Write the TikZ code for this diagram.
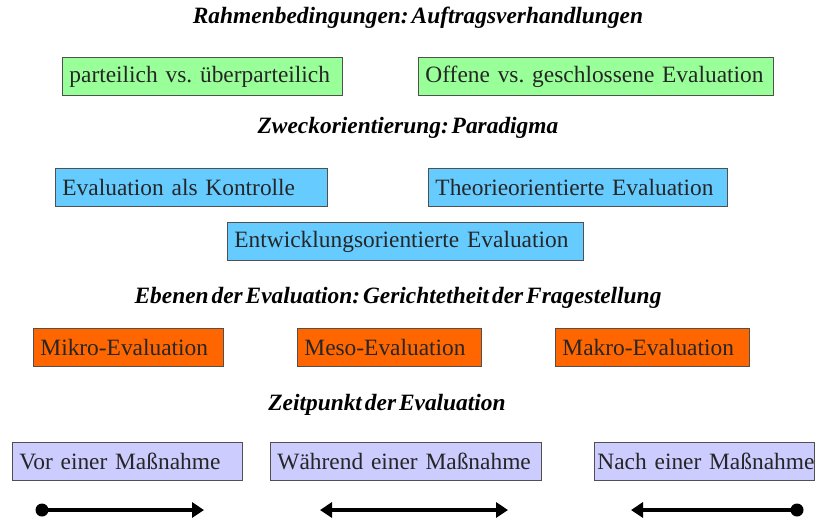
\documentclass[tikz,border=0pt]{standalone}
\usepackage{fontspec}
\setmainfont{Liberation Serif}
\newfontfamily\boxfont[WordSpace=0.6]{Liberation Serif}
\newfontfamily\headfont[WordSpace=0.5]{Liberation Serif}
\usetikzlibrary{arrows.meta}
\definecolor{boxgreen}{HTML}{99FF99}
\definecolor{boxblue}{HTML}{66CCFF}
\definecolor{boxorange}{HTML}{FF6600}
\definecolor{boxlilac}{HTML}{CCCCFF}
\definecolor{edgegray}{HTML}{505050}
\frenchspacing
\tikzset{
  heading/.style={font=\headfont\fontsize{23.4}{25}\selectfont\bfseries\itshape, inner sep=0pt},
  card/.style={draw=edgegray, line width=0.9pt, anchor=north west, minimum height=38pt,
    inner xsep=7pt, inner ysep=0pt, align=left,
    font=\boxfont\fontsize{23.4}{25}\selectfont, text=black!85},
  timeline/.style={line width=4pt, black},
  tipR/.style={-{Triangle[length=12pt,width=15pt]}},
  dotend/.style={fill=black, draw=none}
}
\begin{document}
\begin{tikzpicture}[x=1pt,y=-1pt]
\useasboundingbox (0,0) rectangle (817,520);

% section headings
\node[heading] (h1) at (418,18) {Rahmenbedingungen: Auftragsverhandlungen};
\node[heading] (h2) at (408,128) {Zweckorientierung: Paradigma};
\node[heading] (h3) at (398,298) {Ebenen der Evaluation: Gerichtetheit der Fragestellung};
\node[heading] (h4) at (387,405) {Zeitpunkt der Evaluation};

% framework conditions
\node[card, fill=boxgreen, text width=266pt] (g1) at (62,57) {parteilich vs. überparteilich};
\node[card, fill=boxgreen, text width=341pt] (g2) at (418,57) {Offene vs. geschlossene Evaluation};

% purpose / paradigm
\node[card, fill=boxblue, text width=258pt] (b1) at (55,168) {Evaluation als Kontrolle};
\node[card, fill=boxblue, text width=285pt] (b2) at (428,168) {Theorieorientierte Evaluation};
\node[card, fill=boxblue, text width=342pt] (b3) at (227,222) {Entwicklungsorientierte Evaluation};

% levels
\node[card, fill=boxorange, text width=176pt] (o1) at (33,328) {Mikro-Evaluation};
\node[card, fill=boxorange, text width=170pt] (o2) at (297,328) {Meso-Evaluation};
\node[card, fill=boxorange, text width=180pt] (o3) at (555,328) {Makro-Evaluation};

% point in time
\node[card, fill=boxlilac, text width=216pt] (t1) at (12,442) {Vor einer Maßnahme};
\node[card, fill=boxlilac, text width=257pt] (t2) at (270,442) {Während einer Maßnahme};
\node[card, fill=boxlilac, text width=214pt, inner xsep=3pt] (t3) at (594,442) {\mbox{Nach einer Maßnahme}};

% time arrows
\coordinate (a1s) at (42,510);
\coordinate (a1e) at (204,510);
\coordinate (a2s) at (320,510);
\coordinate (a2e) at (508,510);
\coordinate (a3s) at (797,510);
\coordinate (a3e) at (631,510);
\draw[timeline, tipR] (a1s) -- (a1e);
\fill[dotend] (a1s) circle (6.5pt);
\draw[timeline, {Triangle[length=12pt,width=15pt]}-{Triangle[length=12pt,width=15pt]}] (a2s) -- (a2e);
\draw[timeline, tipR] (a3s) -- (a3e);
\fill[dotend] (a3s) circle (6.5pt);
\end{tikzpicture}
\end{document}
